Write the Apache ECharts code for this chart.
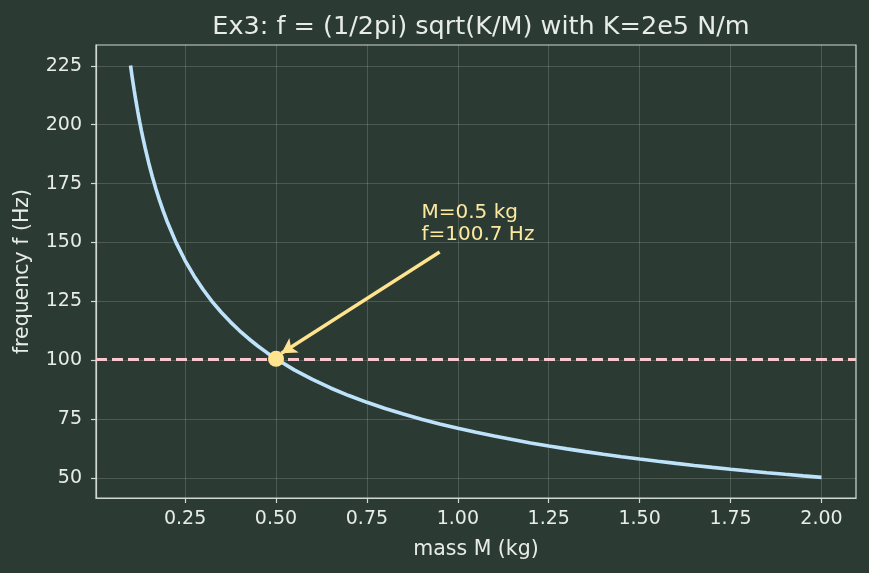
<!DOCTYPE html>
<html>
<head>
<meta charset="utf-8">
<script src="https://cdn.jsdelivr.net/npm/echarts@6/dist/echarts.min.js"></script>
<style>
  html, body { margin: 0; padding: 0; background: #2b3b34; }
  #chart { width: 869px; height: 573px; }
</style>
</head>
<body>
<div id="chart"></div>
<script>
// mass values (kg) and read-off frequencies (Hz)
const massKg = [0.1, 0.105, 0.11, 0.115, 0.12, 0.125, 0.13, 0.135, 0.14, 0.15, 0.16, 0.17, 0.18, 0.19,
  0.2, 0.225, 0.25, 0.275, 0.3, 0.325, 0.35, 0.375, 0.4, 0.425, 0.45, 0.475, 0.5, 0.55, 0.6, 0.65,
  0.7, 0.75, 0.8, 0.85, 0.9, 0.95, 1.0, 1.05, 1.1, 1.2, 1.25, 1.3, 1.35, 1.4, 1.45, 1.5, 1.55, 1.6,
  1.65, 1.7, 1.75, 1.8, 1.85, 1.9, 1.95, 2.0];
const freqHz = [225.08, 219.65, 214.6, 209.88, 205.47, 201.32, 197.41, 193.72, 190.23, 183.78, 177.94,
  172.63, 167.76, 163.29, 159.16, 150.05, 142.35, 135.73, 129.95, 124.85, 120.31, 116.23, 112.54,
  109.18, 106.1, 103.27, 100.66, 95.97, 91.89, 88.28, 85.07, 82.19, 79.58, 77.2, 75.03, 73.03, 71.18,
  69.46, 67.86, 64.97, 63.66, 62.43, 61.26, 60.15, 59.11, 58.12, 57.17, 56.27, 55.41, 54.59, 53.8,
  53.05, 52.33, 51.64, 50.97, 50.33];
const xTicks = [0.25, 0.5, 0.75, 1.0, 1.25, 1.5, 1.75, 2.0];
const yTicks = [50, 75, 100, 125, 150, 175, 200, 225];
const markM = 0.5;
const markF = 100.66;
const arrowTail = [0.95, 146];
const arrowHead = [0.515, 103];
const noteAt = [0.9, 150];

const textColor = '#e8ece6';
const frameColor = '#cfd9d1';

const chart = echarts.init(document.getElementById('chart'));
const option = {
  backgroundColor: '#2b3b34',
  title: {
    text: 'Ex3: f = (1/2pi) sqrt(K/M) with K=2e5 N/m',
    left: 476,
    textAlign: 'center',
    top: 9,
    textStyle: { color: textColor, fontSize: 25.5, fontWeight: 'normal', fontFamily: 'DejaVu Sans' },
  },
  grid: {
    left: 96, right: 13, top: 45, bottom: 75,
    show: true, borderColor: frameColor, borderWidth: 1.2,
  },
  xAxis: {
    type: 'value',
    min: 0.005,
    max: 2.095,
    name: 'mass M (kg)',
    nameLocation: 'middle',
    nameGap: 41,
    nameTextStyle: { color: textColor, fontSize: 20.5, fontFamily: 'DejaVu Sans' },
    axisLine: { show: true, lineStyle: { color: frameColor, width: 1.2 } },
    axisTick: { show: true, customValues: xTicks, length: 5, lineStyle: { color: frameColor, width: 1.2 } },
    axisLabel: {
      customValues: xTicks, color: textColor, fontSize: 19, fontFamily: 'DejaVu Sans', margin: 12,
      formatter: v => v.toFixed(2),
    },
    splitLine: { show: true, lineStyle: { color: 'rgba(255,255,255,0.16)', width: 1 } },
  },
  yAxis: {
    type: 'value',
    min: 41.59,
    max: 233.82,
    name: 'frequency f (Hz)',
    nameLocation: 'middle',
    nameGap: 63,
    nameTextStyle: { color: textColor, fontSize: 20.5, fontFamily: 'DejaVu Sans' },
    axisLine: { show: true, lineStyle: { color: frameColor, width: 1.2 } },
    axisTick: { show: true, customValues: yTicks, length: 5, lineStyle: { color: frameColor, width: 1.2 } },
    axisLabel: { customValues: yTicks, color: textColor, fontSize: 19, fontFamily: 'DejaVu Sans', margin: 14 },
    splitLine: { show: true, lineStyle: { color: 'rgba(255,255,255,0.16)', width: 1 } },
  },
  series: [
    {
      type: 'line',
      data: massKg.map((m, i) => [m, freqHz[i]]),
      symbol: 'none',
      lineStyle: { color: '#bfe2fb', width: 3.6 },
      z: 3,
      markLine: {
        silent: true,
        symbol: ['none', 'none'],
        label: { show: false },
        lineStyle: { color: '#f8c8ce', type: [11, 5], width: 2.8, opacity: 1 },
        data: [{ yAxis: markF }],
      },
    },
    {
      type: 'line',
      data: [],
      z: 4,
      markLine: {
        silent: true,
        symbol: ['none', 'arrow'],
        symbolSize: [13, 15],
        label: { show: false },
        lineStyle: { color: '#ffe38f', width: 3.4, type: 'solid', opacity: 1 },
        data: [[{ coord: arrowTail }, { coord: arrowHead }]],
      },
    },
    {
      type: 'scatter',
      data: [[markM, markF]],
      symbolSize: 16,
      itemStyle: { color: '#ffe38f', opacity: 1 },
      z: 5,
    },
    {
      type: 'scatter',
      data: [noteAt],
      symbolSize: 0,
      itemStyle: { opacity: 1 },
      label: {
        show: true,
        position: 'right',
        distance: 0,
        offset: [0, -19],
        formatter: 'M=0.5 kg\nf=100.7 Hz',
        color: '#fde8a0',
        opacity: 1,
        fontSize: 20,
        lineHeight: 22,
        fontFamily: 'DejaVu Sans',
        align: 'left',
        verticalAlign: 'middle',
      },
      z: 6,
    },
  ],
};
chart.setOption(option);
</script>
</body>
</html>
